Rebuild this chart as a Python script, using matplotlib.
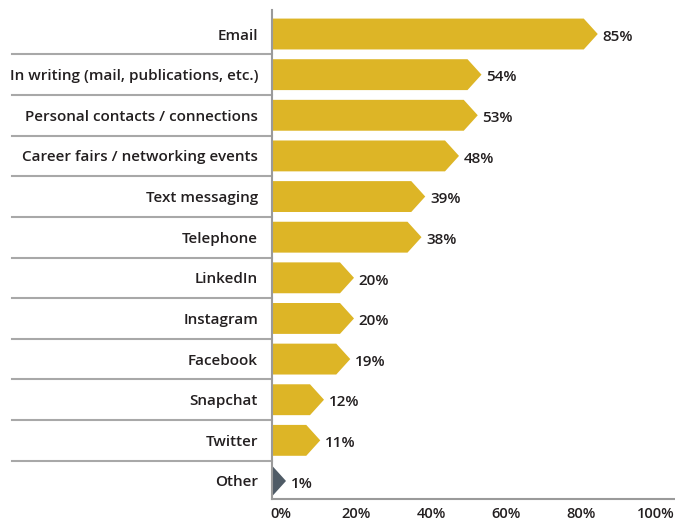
import matplotlib.pyplot as plt
from matplotlib.patches import Polygon
from matplotlib.transforms import ScaledTranslation, blended_transform_factory

plt.rcParams['font.family'] = ['Open Sans', 'DejaVu Sans']

# datos
categorias = ['Email', 'In writing (mail, publications, etc.)', 'Personal contacts / connections',
              'Career fairs / networking events', 'Text messaging', 'Telephone', 'LinkedIn',
              'Instagram', 'Facebook', 'Snapchat', 'Twitter', 'Other']
valores = [85, 54, 53, 48, 39, 38, 20, 20, 19, 12, 11, 1]
colores = ['#DDB526'] * 11 + ['#4F5B66']
ticks = [0, 20, 40, 60, 80, 100]
tick_labels = ['0%', '20%', '40%', '60%', '80%', '100%']

fig = plt.figure(figsize=(6.75, 5.23), dpi=100)
W, H = 675, 523
ax = fig.add_axes([272 / W, (H - 499) / H, (W - 272) / W, (499 - 10) / H])

px = 3.75          # pixeles por punto porcentual
w = 14 / px        # ancho de la punta
h = 0.76           # alto de la barra

for i, (v, c) in enumerate(zip(valores, colores)):
    fin = max(v - w / 2, 0)
    punta = fin + w
    pts = [(0, i - h / 2), (fin, i - h / 2), (punta, i), (fin, i + h / 2), (0, i + h / 2)]
    ax.add_patch(Polygon(pts, closed=True, facecolor=c, edgecolor='none'))
    ax.annotate(f'{v}%', (punta, i), xytext=(3.5, -2), textcoords='offset points',
                va='center', ha='left', fontsize=11, color='#231F20', fontweight='semibold')

ax.set_xlim(0, (W - 272) / px)
ax.set_ylim(11 + 18 / 40.6, -24 / 40.6)

ax.set_yticks(range(len(categorias)))
ax.set_yticklabels(categorias, fontsize=11, color='#231F20', fontweight='semibold')
ax.tick_params(axis='y', length=0, pad=10)

ax.set_xticks(ticks)
ax.set_xticklabels(tick_labels, fontsize=10.5, color='#231F20', fontweight='semibold')
ax.tick_params(axis='x', length=0, pad=6)
desp = ScaledTranslation(9 / 100, 0, fig.dpi_scale_trans)
for lab in ax.get_xticklabels():
    lab.set_transform(lab.get_transform() + desp)

for s in ['top', 'right']:
    ax.spines[s].set_visible(False)
ax.spines['left'].set_color('#9A9A9A')
ax.spines['bottom'].set_color('#9A9A9A')
ax.spines['left'].set_linewidth(1.5)
ax.spines['bottom'].set_linewidth(1.5)

# líneas separadoras a la izquierda
tr = blended_transform_factory(ax.transAxes, ax.transData)
x0 = (12 - 272) / (W - 272)
for i in range(len(categorias) - 1):
    ax.plot([x0, 0], [i + 0.5, i + 0.5], color='#A8A8A8', lw=1.5, transform=tr, clip_on=False)

fig.savefig('out.png', dpi=100)
